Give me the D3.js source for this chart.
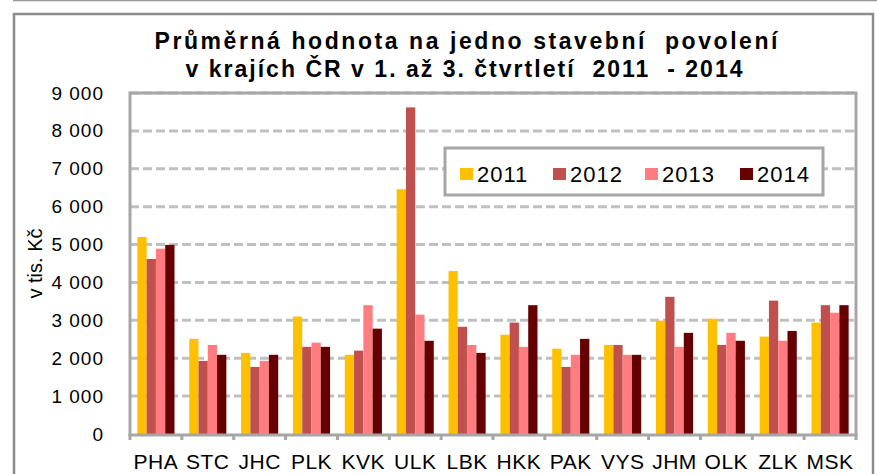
<!DOCTYPE html>
<html>
<head>
<meta charset="utf-8">
<script src="https://cdn.jsdelivr.net/npm/d3@7"></script>
<style>
  body { margin: 0; background: #fff; }
  svg { display: block; font-family: "Liberation Sans", Arial, sans-serif; }
</style>
</head>
<body>
<svg id="chart" width="877" height="474"></svg>
<script>
// data (v tis. Kč)
const regions = ["PHA", "STC", "JHC", "PLK", "KVK", "ULK", "LBK", "HKK", "PAK", "VYS", "JHM", "OLK", "ZLK", "MSK"];
const years = ["2011", "2012", "2013", "2014"];
const v2011 = [5200, 2510, 2140, 3100, 2090, 6460, 4300, 2620, 2250, 2350, 2990, 3040, 2570, 2940];
const v2012 = [4620, 1930, 1770, 2300, 2200, 8620, 2830, 2940, 1770, 2350, 3620, 2350, 3520, 3400];
const v2013 = [4890, 2350, 1930, 2410, 3400, 3150, 2350, 2300, 2090, 2090, 2300, 2670, 2460, 3200];
const v2014 = [4990, 2090, 2090, 2300, 2780, 2460, 2140, 3400, 2510, 2090, 2670, 2460, 2720, 3400];
const yTicks = [0, 1000, 2000, 3000, 4000, 5000, 6000, 7000, 8000, 9000];
const colors = ["#FFC000", "#C0504D", "#FF7C80", "#660000"];
const series = [v2011, v2012, v2013, v2014];

const svg = d3.select("#chart");
const plot = { left: 130, right: 856, top: 93, bottom: 434 };

// page line + outer chart frame
svg.append("line")
    .attr("x1", 13).attr("x2", 877).attr("y1", 0.5).attr("y2", 0.5)
    .attr("stroke", "#999").attr("stroke-width", 1.5);
svg.append("rect")
    .attr("x", 14).attr("y", 14).attr("width", 859).attr("height", 500)
    .attr("fill", "#fff").attr("stroke", "#8c8c8c").attr("stroke-width", 2.5);

const x = d3.scaleBand().domain(regions).range([plot.left, plot.right]);
const gap = x.bandwidth() * 0.142;
const xIn = d3.scaleBand().domain(years).range([gap, x.bandwidth() - gap]);
const y = d3.scaleLinear().domain([0, 9000]).range([plot.bottom, plot.top]);

// gridlines
svg.append("g")
    .selectAll("line")
    .data(yTicks.filter(d => d > 0))
    .join("line")
    .attr("x1", plot.left).attr("x2", plot.right)
    .attr("y1", d => y(d)).attr("y2", d => y(d))
    .attr("stroke", "#c0c0c0").attr("stroke-width", 3)
    .attr("stroke-dasharray", "9,4");

// plot border (left/right/top)
svg.append("path")
    .attr("d", `M${plot.left},${plot.bottom}V${plot.top}H${plot.right}V${plot.bottom}`)
    .attr("fill", "none").attr("stroke", "#a6a6a6").attr("stroke-width", 3);

// bars
const groups = svg.append("g").selectAll("g")
    .data(regions)
    .join("g")
    .attr("transform", d => `translate(${x(d)},0)`);

groups.selectAll("rect")
    .data((d, i) => years.map((yr, j) => ({ yr: yr, v: series[j][i], c: colors[j] })))
    .join("rect")
    .attr("x", d => xIn(d.yr))
    .attr("width", xIn.bandwidth())
    .attr("y", d => y(d.v))
    .attr("height", d => y(0) - y(d.v))
    .attr("fill", d => d.c);

// x axis
const xAxis = svg.append("g")
    .attr("transform", `translate(0,${plot.bottom})`)
    .call(d3.axisBottom(x).tickSize(0).tickPadding(0));
xAxis.select(".domain").remove();
xAxis.selectAll("text")
    .attr("y", 35).attr("dy", 0)
    .style("font-size", "21px").style("letter-spacing", "0.5px")
    .attr("fill", "#000");

svg.append("line")
    .attr("x1", plot.left - 1.5).attr("x2", plot.right + 1.5)
    .attr("y1", plot.bottom + 1).attr("y2", plot.bottom + 1)
    .attr("stroke", "#a6a6a6").attr("stroke-width", 3);
svg.append("g").selectAll("line")
    .data(d3.range(regions.length + 1))
    .join("line")
    .attr("x1", i => plot.left + i * x.step()).attr("x2", i => plot.left + i * x.step())
    .attr("y1", plot.bottom).attr("y2", plot.bottom + 6)
    .attr("stroke", "#a6a6a6").attr("stroke-width", 3);

// y axis labels
const fmt = v => d3.format(",")(v).replace(",", " ");
const yAxis = svg.append("g")
    .attr("transform", `translate(104,0)`)
    .call(d3.axisLeft(y).tickValues(yTicks).tickFormat(fmt).tickSize(0).tickPadding(0));
yAxis.select(".domain").remove();
yAxis.selectAll("text")
    .style("font-size", "19px").style("letter-spacing", "1px")
    .attr("fill", "#000");

svg.append("text")
    .attr("transform", `translate(42,${(plot.top + plot.bottom) / 2}) rotate(-90)`)
    .attr("text-anchor", "middle")
    .style("font-size", "20px")
    .text("v tis. Kč");

// title (keeps the double spaces of the original)
const title = svg.append("g")
    .style("font-weight", "bold").style("font-size", "23px");
title.append("text")
    .attr("xml:space", "preserve")
    .style("white-space", "pre")
    .attr("x", 466).attr("y", 49).attr("text-anchor", "middle")
    .attr("textLength", 623).attr("lengthAdjust", "spacing")
    .text("Průměrná hodnota na jedno stavební  povolení");
title.append("text")
    .attr("xml:space", "preserve")
    .style("white-space", "pre")
    .attr("x", 464).attr("y", 77).attr("text-anchor", "middle")
    .attr("textLength", 557).attr("lengthAdjust", "spacing")
    .text("v krajích ČR v 1. až 3. čtvrtletí  2011  - 2014");

// legend
const legend = svg.append("g");
legend.append("rect")
    .attr("x", 445).attr("y", 148).attr("width", 378).attr("height", 47)
    .attr("fill", "#fff").attr("stroke", "#a6a6a6").attr("stroke-width", 3);
const lx = d3.scaleOrdinal().domain(years).range([460, 553, 645, 740]);
const items = legend.selectAll("g.item")
    .data(years)
    .join("g")
    .attr("class", "item")
    .attr("transform", d => `translate(${lx(d)},168)`);
items.append("rect")
    .attr("width", 13).attr("height", 12)
    .attr("fill", (d, i) => colors[i]);
items.append("text")
    .attr("x", 17).attr("y", 14)
    .style("font-size", "22px").style("letter-spacing", "1px")
    .text(d => d);
</script>
</body>
</html>
